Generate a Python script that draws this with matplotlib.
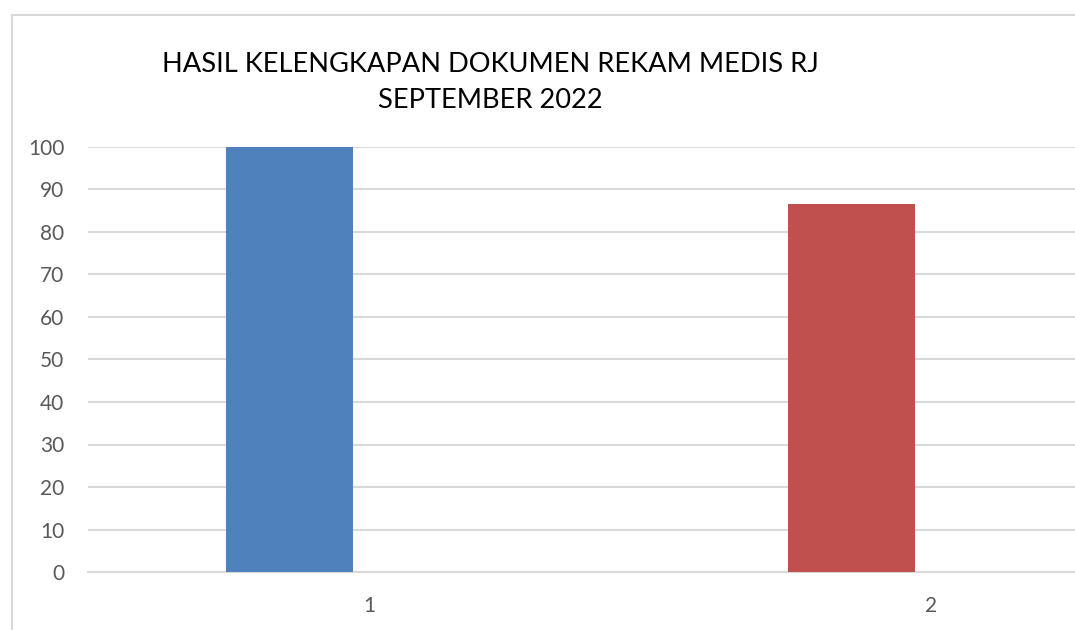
import matplotlib.pyplot as plt
from matplotlib.lines import Line2D

categories = [1, 2]
values = [100, 86.5]
colors = ['#4f81bd', '#c0504d']
title = "HASIL KELENGKAPAN DOKUMEN REKAM MEDIS RJ\nSEPTEMBER 2022"

plt.rcParams['font.family'] = ['Lato', 'DejaVu Sans']

W, H = 1075, 630
fig = plt.figure(figsize=(W / 100, H / 100), dpi=100)

# axes extends past the right edge, like the cropped original
ax = fig.add_axes([88 / W, (H - 572) / H, 1124 / W, (572 - 147) / H])

offset = -0.142
width = 0.226
for c, v, col in zip(categories, values, colors):
    ax.bar(c + offset, v, width=width, color=col, zorder=3)

ax.set_xlim(0.5, 2.5)
ax.set_ylim(0, 100)
ax.set_yticks(range(0, 101, 10))
ax.set_xticks(categories)
ax.set_xticklabels([str(c) for c in categories])
ax.grid(axis='y', color='#d9d9d9', linewidth=1.5, zorder=0)
for s in ['top', 'right', 'left']:
    ax.spines[s].set_visible(False)
ax.spines['bottom'].set_color('#d9d9d9')
ax.spines['bottom'].set_linewidth(1.5)
ax.tick_params(length=0, labelsize=15, labelcolor='#595959')
ax.tick_params(axis='y', pad=17)
ax.tick_params(axis='x', pad=17)

fig.text(490 / W, 1 - 82 / H, title, ha='center', va='center',
         fontsize=19.6, color='black', linespacing=1.55)

# chart area border
fig.add_artist(Line2D([12 / W, 12 / W], [0, 1 - 15 / H], color='#d9d9d9', lw=1.5))
fig.add_artist(Line2D([12 / W, 1], [1 - 15 / H, 1 - 15 / H], color='#d9d9d9', lw=1.5))

fig.savefig('out.png', dpi=100)
